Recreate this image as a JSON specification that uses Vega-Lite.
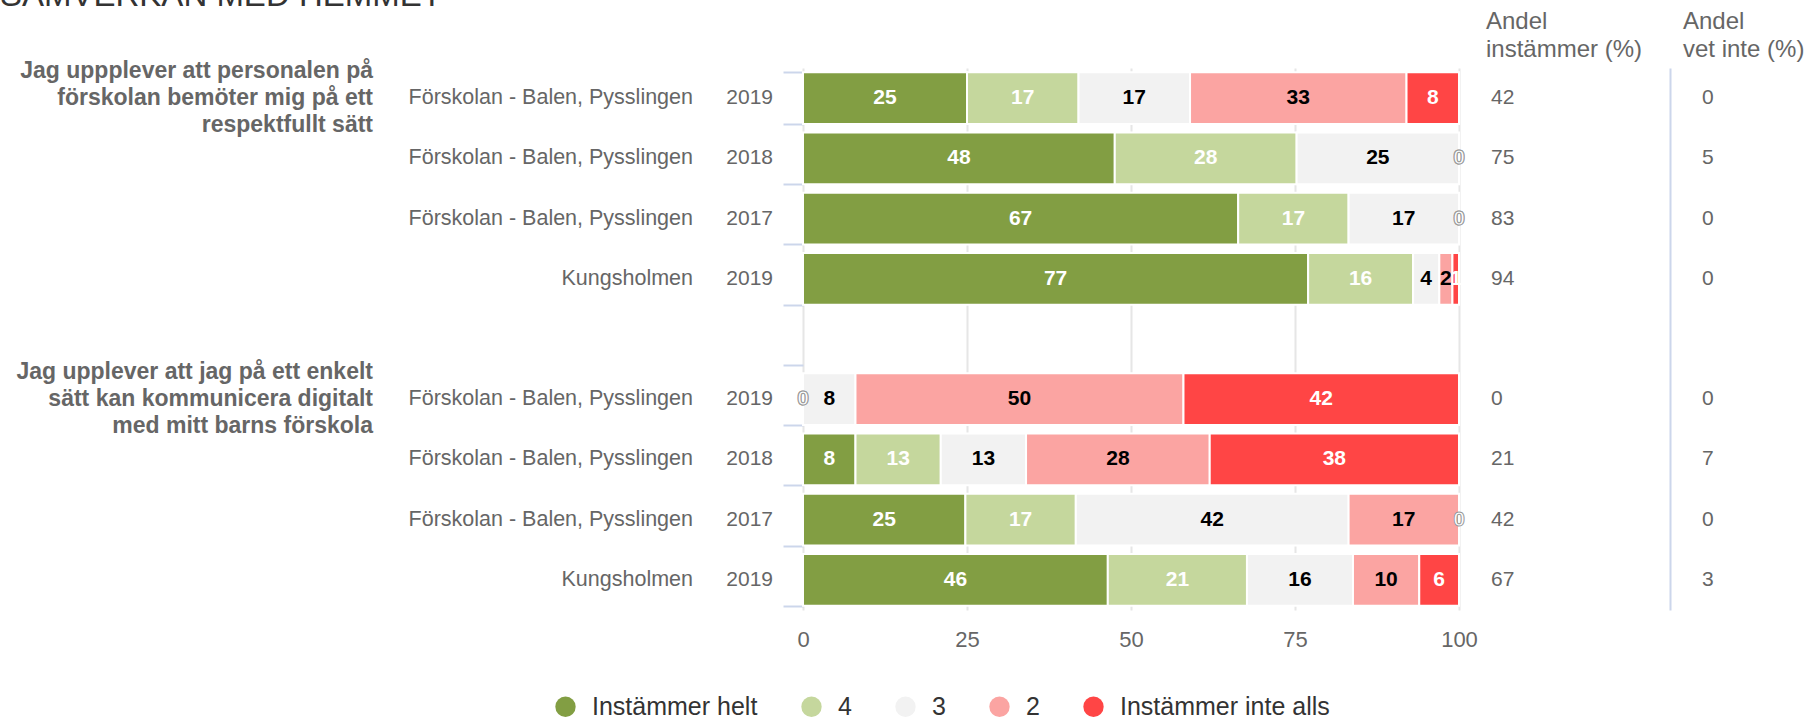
{
  "$schema": "https://vega.github.io/schema/vega-lite/v6.json",
  "padding": {"left": 0, "top": -20, "right": 0, "bottom": 0},
  "background": "white",
  "bounds": "flush",
  "spacing": 30,
  "config": {"view": {"stroke": null}, "font": "Liberation Sans"},
  "datasets": {
    "rows": [
      {"row": "r1", "question": "Jag uppplever att personalen på\nförskolan bemöter mig på ett\nrespektfullt sätt", "school": "Förskolan - Balen, Pysslingen", "year": "2019", "andel": 42, "vetinte": 0},
      {"row": "r2", "school": "Förskolan - Balen, Pysslingen", "year": "2018", "andel": 75, "vetinte": 5},
      {"row": "r3", "school": "Förskolan - Balen, Pysslingen", "year": "2017", "andel": 83, "vetinte": 0},
      {"row": "r4", "school": "Kungsholmen", "year": "2019", "andel": 94, "vetinte": 0},
      {"row": "r6", "question": "Jag upplever att jag på ett enkelt\nsätt kan kommunicera digitalt\nmed mitt barns förskola", "school": "Förskolan - Balen, Pysslingen", "year": "2019", "andel": 0, "vetinte": 0},
      {"row": "r7", "school": "Förskolan - Balen, Pysslingen", "year": "2018", "andel": 21, "vetinte": 7},
      {"row": "r8", "school": "Förskolan - Balen, Pysslingen", "year": "2017", "andel": 42, "vetinte": 0},
      {"row": "r9", "school": "Kungsholmen", "year": "2019", "andel": 67, "vetinte": 3}
    ],
    "segments": [
      {"row": "r1", "cat": "Instämmer helt", "order": 1, "value": 25},
      {"row": "r1", "cat": "4", "order": 2, "value": 17},
      {"row": "r1", "cat": "3", "order": 3, "value": 17},
      {"row": "r1", "cat": "2", "order": 4, "value": 33},
      {"row": "r1", "cat": "Instämmer inte alls", "order": 5, "value": 8},
      {"row": "r2", "cat": "Instämmer helt", "order": 1, "value": 48},
      {"row": "r2", "cat": "4", "order": 2, "value": 28},
      {"row": "r2", "cat": "3", "order": 3, "value": 25},
      {"row": "r2", "cat": "2", "order": 4, "value": 0},
      {"row": "r2", "cat": "Instämmer inte alls", "order": 5, "value": 0},
      {"row": "r3", "cat": "Instämmer helt", "order": 1, "value": 67},
      {"row": "r3", "cat": "4", "order": 2, "value": 17},
      {"row": "r3", "cat": "3", "order": 3, "value": 17},
      {"row": "r3", "cat": "2", "order": 4, "value": 0},
      {"row": "r3", "cat": "Instämmer inte alls", "order": 5, "value": 0},
      {"row": "r4", "cat": "Instämmer helt", "order": 1, "value": 77},
      {"row": "r4", "cat": "4", "order": 2, "value": 16},
      {"row": "r4", "cat": "3", "order": 3, "value": 4},
      {"row": "r4", "cat": "2", "order": 4, "value": 2},
      {"row": "r4", "cat": "Instämmer inte alls", "order": 5, "value": 1},
      {"row": "r6", "cat": "Instämmer helt", "order": 1, "value": 0},
      {"row": "r6", "cat": "4", "order": 2, "value": 0},
      {"row": "r6", "cat": "3", "order": 3, "value": 8},
      {"row": "r6", "cat": "2", "order": 4, "value": 50},
      {"row": "r6", "cat": "Instämmer inte alls", "order": 5, "value": 42},
      {"row": "r7", "cat": "Instämmer helt", "order": 1, "value": 8},
      {"row": "r7", "cat": "4", "order": 2, "value": 13},
      {"row": "r7", "cat": "3", "order": 3, "value": 13},
      {"row": "r7", "cat": "2", "order": 4, "value": 28},
      {"row": "r7", "cat": "Instämmer inte alls", "order": 5, "value": 38},
      {"row": "r8", "cat": "Instämmer helt", "order": 1, "value": 25},
      {"row": "r8", "cat": "4", "order": 2, "value": 17},
      {"row": "r8", "cat": "3", "order": 3, "value": 42},
      {"row": "r8", "cat": "2", "order": 4, "value": 17},
      {"row": "r8", "cat": "Instämmer inte alls", "order": 5, "value": 0},
      {"row": "r9", "cat": "Instämmer helt", "order": 1, "value": 46},
      {"row": "r9", "cat": "4", "order": 2, "value": 21},
      {"row": "r9", "cat": "3", "order": 3, "value": 16},
      {"row": "r9", "cat": "2", "order": 4, "value": 10},
      {"row": "r9", "cat": "Instämmer inte alls", "order": 5, "value": 6}
    ]
  },
  "hconcat": [
    {
      "width": 373, "height": 542,
      "data": {"name": "rows"},
      "title": {"text": "SAMVERKAN MED HEMMET", "anchor": "start", "fontSize": 33, "fontWeight": "normal", "color": "#333333", "offset": 47, "limit": 2000},
      "transform": [{"filter": "isValid(datum.question)"}],
      "mark": {"type": "text", "align": "right", "baseline": "middle", "fontSize": 23, "fontWeight": "bold", "color": "#666666", "lineBreak": "\n", "lineHeight": 27, "dy": -27},
      "encoding": {
        "y": {"field": "row", "type": "nominal", "scale": {"type": "band", "domain": ["r1","r2","r3","r4","r5","r6","r7","r8","r9"], "paddingInner": 0.14, "paddingOuter": 0.07}, "axis": null},
        "x": {"value": "width"},
        "text": {"field": "question", "type": "nominal"}
      }
    },
    {
      "width": 290, "height": 542,
      "data": {"name": "rows"},
      "mark": {"type": "text", "align": "right", "baseline": "middle", "fontSize": 21.5, "color": "#666666"},
      "encoding": {
        "y": {"field": "row", "type": "nominal", "scale": {"type": "band", "domain": ["r1","r2","r3","r4","r5","r6","r7","r8","r9"], "paddingInner": 0.14, "paddingOuter": 0.07}, "axis": null},
        "x": {"value": "width"},
        "text": {"field": "school", "type": "nominal"}
      }
    },
    {
      "width": 50, "height": 542,
      "data": {"name": "rows"},
      "mark": {"type": "text", "align": "right", "baseline": "middle", "fontSize": 21, "color": "#666666"},
      "encoding": {
        "y": {"field": "row", "type": "nominal", "scale": {"type": "band", "domain": ["r1","r2","r3","r4","r5","r6","r7","r8","r9"], "paddingInner": 0.14, "paddingOuter": 0.07}, "axis": null},
        "x": {"value": "width"},
        "text": {"field": "year", "type": "nominal"}
      }
    },
    {
      "width": 656, "height": 542,
      "data": {"name": "segments"},
      "transform": [
        {"stack": "value", "groupby": ["row"], "sort": [{"field": "order", "order": "ascending"}], "offset": "normalize", "as": ["x0", "x1"]},
        {"calculate": "(datum.x0 + datum.x1) / 2", "as": "xm"}
      ],
      "encoding": {
        "y": {"field": "row", "type": "nominal", "scale": {"type": "band", "domain": ["r1","r2","r3","r4","r5","r6","r7","r8","r9"], "paddingInner": 0.14, "paddingOuter": 0.07},
          "axis": {"title": null, "domain": false, "labels": false, "ticks": true, "tickColor": "#ccd6eb", "tickSize": 20, "tickWidth": 2, "tickBand": "extent", "grid": false}}
      },
      "layer": [
        {
          "mark": {"type": "bar", "stroke": "#ffffff", "strokeWidth": 2},
          "encoding": {
            "x": {"field": "x0", "type": "quantitative", "scale": {"domain": [0, 1], "nice": false},
              "axis": {"title": null, "values": [0, 0.25, 0.5, 0.75, 1], "labelExpr": "format(datum.value * 100, 'd')", "domain": false, "ticks": false, "grid": true, "gridColor": "#e6e6e6", "gridWidth": 2, "labelFontSize": 22, "labelColor": "#666666", "labelPadding": 19, "labelFlush": false, "labelOverlap": false}},
            "x2": {"field": "x1"},
            "color": {"field": "cat", "type": "nominal",
              "scale": {"domain": ["Instämmer helt", "4", "3", "2", "Instämmer inte alls"], "range": ["#829e43", "#c5d79d", "#f2f2f2", "#fba4a2", "#ff4545"]},
              "legend": {"title": null, "orient": "none", "legendX": 553, "legendY": 626, "direction": "horizontal", "symbolType": "circle", "symbolSize": 415, "symbolStrokeWidth": 0, "labelFontSize": 25, "labelColor": "#333333", "labelOffset": 14, "columnPadding": 41, "labelLimit": 400}}
          }
        },
        {
          "mark": {"type": "text", "fontSize": 21, "fontWeight": "bold", "baseline": "middle", "align": "center", "strokeWidth": 1},
          "encoding": {
            "x": {"field": "xm", "type": "quantitative"},
            "text": {"field": "value", "type": "quantitative", "format": "d"},
            "color": {"condition": [{"test": "datum.value === 0", "value": "#ffffff"}, {"test": "datum.cat === '3' || datum.cat === '2'", "value": "#000000"}], "value": "#ffffff"},
            "stroke": {"condition": {"test": "datum.value === 0", "value": "#999999"}, "value": "transparent"}
          }
        }
      ]
    },
    {
      "width": 151, "height": 542,
      "data": {"name": "rows"},
      "title": {"text": ["Andel", "instämmer (%)"], "anchor": "start", "fontSize": 24, "fontWeight": "normal", "color": "#666666", "lineHeight": 28, "offset": 6, "dx": -3},
      "mark": {"type": "text", "align": "left", "baseline": "middle", "fontSize": 21, "color": "#666666", "dx": 2},
      "encoding": {
        "y": {"field": "row", "type": "nominal", "scale": {"type": "band", "domain": ["r1","r2","r3","r4","r5","r6","r7","r8","r9"], "paddingInner": 0.14, "paddingOuter": 0.07}, "axis": null},
        "x": {"value": 0},
        "text": {"field": "andel", "type": "quantitative", "format": "d"}
      }
    },
    {
      "width": 140, "height": 542,
      "data": {"name": "rows"},
      "title": {"text": ["Andel", "vet inte (%)"], "anchor": "start", "fontSize": 24, "fontWeight": "normal", "color": "#666666", "lineHeight": 28, "offset": 6, "dx": 13},
      "mark": {"type": "text", "align": "left", "baseline": "middle", "fontSize": 21, "color": "#666666", "dx": 32},
      "encoding": {
        "y": {"field": "row", "type": "nominal", "scale": {"type": "band", "domain": ["r1","r2","r3","r4","r5","r6","r7","r8","r9"], "paddingInner": 0.14, "paddingOuter": 0.07},
          "axis": {"title": null, "domain": true, "domainColor": "#ccd6eb", "domainWidth": 2, "ticks": false, "labels": false, "grid": false}},
        "x": {"value": 0},
        "text": {"field": "vetinte", "type": "quantitative", "format": "d"}
      }
    }
  ]
}
